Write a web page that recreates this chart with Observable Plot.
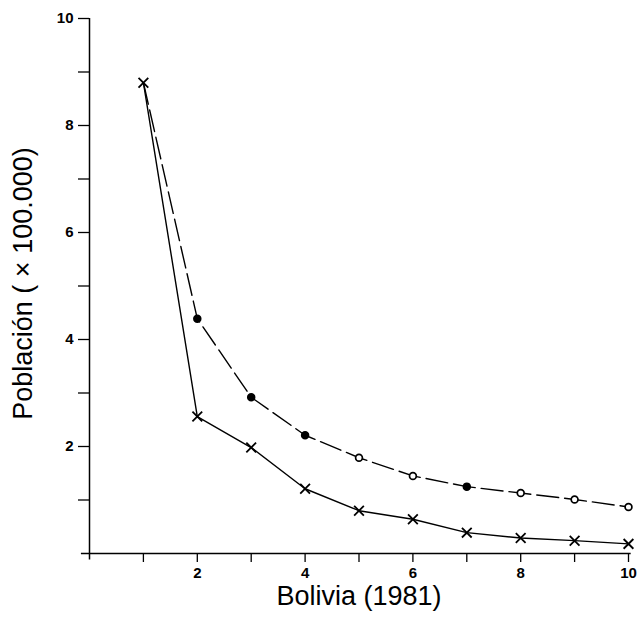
<!DOCTYPE html>
<html>
<head>
<meta charset="utf-8">
<script src="https://cdn.jsdelivr.net/npm/d3@7"></script>
<script src="https://cdn.jsdelivr.net/npm/@observablehq/plot@0.6"></script>
<style>
html,body{margin:0;padding:0;background:#fff;}
svg{display:block;}
</style>
</head>
<body>
<div id="chart"></div>
<script>
// Data
const rank = [1, 2, 3, 4, 5, 6, 7, 8, 9, 10];
const crossValues = [8.8, 2.56, 1.98, 1.21, 0.80, 0.64, 0.39, 0.29, 0.24, 0.18];
const circleValues = [8.8, 4.39, 2.92, 2.21, 1.79, 1.45, 1.25, 1.13, 1.01, 0.87];
const circleFilled = [false, true, true, true, false, false, true, false, false, false];
const xTicks = [1, 2, 3, 4, 5, 6, 7, 8, 9, 10];
const yTicks = [1, 2, 3, 4, 5, 6, 7, 8, 9, 10];
const xLabel = "Bolivia (1981)";
const yLabel = "Población ( × 100.000)";

const cross = rank.map((r, i) => ({x: r, y: crossValues[i]}));
const circ = rank.map((r, i) => ({x: r, y: circleValues[i], filled: circleFilled[i]}));
const evenFmt = d => (d % 2 === 0 ? String(d) : "");
const font = "Liberation Sans, Arial, sans-serif";

const chart = Plot.plot({
  width: 637,
  height: 623,
  marginLeft: 89,
  marginRight: 9,
  marginTop: 18,
  marginBottom: 70,
  style: {background: "#fff", fontFamily: font},
  x: {domain: [0, 10]},
  y: {domain: [0, 10]},
  marks: [
    Plot.axisX({ticks: xTicks, tickFormat: evenFmt, tickSize: 9, tickPadding: 5, fontSize: 15, fontWeight: "bold", label: null, strokeWidth: 1.3}),
    Plot.axisY({ticks: yTicks, tickFormat: evenFmt, tickSize: 11, tickPadding: 5, fontSize: 15, fontWeight: "bold", label: null, strokeWidth: 1.3}),
    Plot.ruleX([0], {y1: -0.12, y2: 10, strokeWidth: 1.5}),
    Plot.ruleY([0], {x1: -0.15, x2: 10.05, strokeWidth: 1.5}),
    Plot.line(circ, {x: "x", y: "y", stroke: "black", strokeWidth: 1.4, strokeDasharray: "22,6"}),
    Plot.line(cross, {x: "x", y: "y", stroke: "black", strokeWidth: 1.4}),
    Plot.dot(circ.slice(1), {x: "x", y: "y", r: 3.4, stroke: "black", strokeWidth: 1.7, fill: d => d.filled ? "black" : "white"}),
    Plot.dot(cross, {x: "x", y: "y", symbol: "times", r: 4.5, stroke: "black", strokeWidth: 1.8}),
    Plot.text([xLabel], {frameAnchor: "bottom", dy: 51, fontSize: 27, fill: "black", fontFamily: font}),
    Plot.text([yLabel], {frameAnchor: "left", textAnchor: "middle", rotate: -90, dx: -66, dy: -2.5, fontSize: 27, fill: "black", fontFamily: font})
  ]
});
document.getElementById("chart").appendChild(chart);
</script>
</body>
</html>
